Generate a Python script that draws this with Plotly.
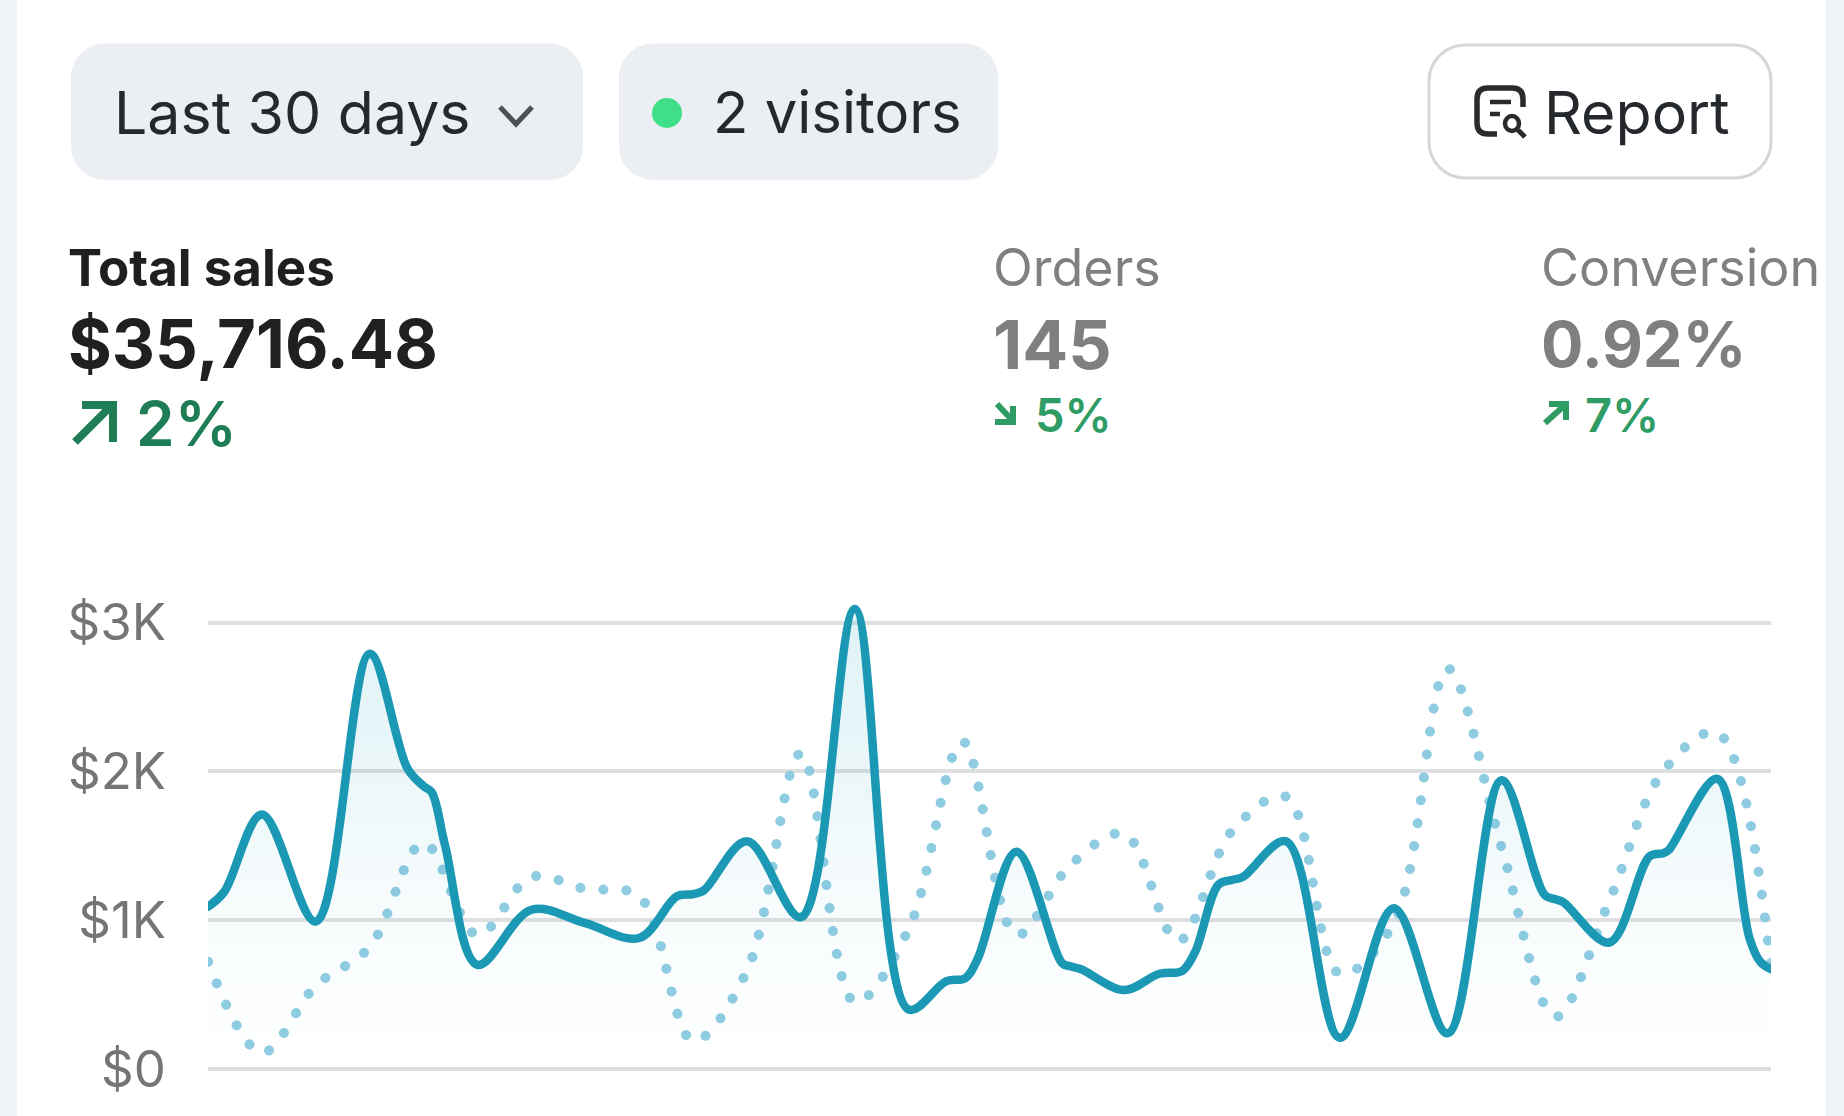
import plotly.graph_objects as go

W, H = 1844, 1116

tick_values = [0, 1000, 2000, 3000]
tick_labels = ["$0", "$1K", "$2K", "$3K"]

# Current period: day values, plus extra readings off the picture where the curve has shoulders
current_days = [0, 0.3, 1, 2, 3, 3.7, 4, 4.15, 4.4, 5, 6, 7, 8, 8.7, 9, 9.2, 10, 11, 12, 13,
                13.7, 14.05, 14.28, 15, 15.85, 16, 16.2, 17, 17.65, 18, 18.1, 18.32, 18.75,
                19, 19.2, 20, 21, 22, 23, 24, 24.8, 25, 25.15, 26, 26.75, 27, 27.1, 28,
                28.6, 28.8, 29]
current_sales = [1090, 1190, 1710, 990, 2790, 2020, 1900, 1860, 1500, 700, 1070, 980, 880, 1160, 1175, 1200,
                 1530, 1020, 3090, 400, 590, 610, 740, 1460, 710, 690, 670, 530, 640, 650, 665, 790, 1240,
                 1270, 1290, 1530, 210, 1080, 240, 1940, 1170, 1140, 1120, 850, 1430, 1450, 1470, 1950,
                 880, 720, 670]
previous_days = list(range(30))
previous_sales = [720, 110, 560, 820, 1520, 900, 1290, 1210, 1160, 190,
                  660, 2120, 450, 940, 2200, 900, 1370, 1580, 860, 1600,
                  1830, 640, 980, 2690, 1490, 350, 1130, 2000, 2260, 680]

PLOT_L, PLOT_R = 208, 1771
Y0, Y3K = 1069, 622.5
px_per = (Y0 - Y3K) / 3000
DOM_T, DOM_B = 560, 1116


def fx(x):
    return x / W


def fy(y):
    return 1 - y / H


def rrect(x0, y0, x1, y1, r):
    k = 0.45 * r
    return (f"M{fx(x0 + r)},{fy(y0)} L{fx(x1 - r)},{fy(y0)} "
            f"C{fx(x1 - k)},{fy(y0)} {fx(x1)},{fy(y0 + k)} {fx(x1)},{fy(y0 + r)} "
            f"L{fx(x1)},{fy(y1 - r)} "
            f"C{fx(x1)},{fy(y1 - k)} {fx(x1 - k)},{fy(y1)} {fx(x1 - r)},{fy(y1)} "
            f"L{fx(x0 + r)},{fy(y1)} "
            f"C{fx(x0 + k)},{fy(y1)} {fx(x0)},{fy(y1 - k)} {fx(x0)},{fy(y1 - r)} "
            f"L{fx(x0)},{fy(y0 + r)} "
            f"C{fx(x0)},{fy(y0 + k)} {fx(x0 + k)},{fy(y0)} {fx(x0 + r)},{fy(y0)} Z")


def poly(points):
    return "M" + " L".join(f"{fx(a)},{fy(b)}" for a, b in points)


def paper_shape(path, fill=None, line=None, width=0):
    return dict(type="path", xref="paper", yref="paper", path=path,
                fillcolor=fill or "rgba(0,0,0,0)",
                line=dict(color=line or "rgba(0,0,0,0)", width=width), layer="below")


shapes = [
    paper_shape(rrect(17, -30, 1826, 1150, 34), fill="#ffffff"),
    paper_shape(rrect(71, 43.5, 583, 180, 34), fill="#ebeef2"),
    paper_shape(rrect(619, 43.5, 998, 180, 34), fill="#ebeef2"),
    paper_shape(rrect(1429, 45, 1771, 178, 36), fill="#ffffff", line="#d4d6d8", width=3),
    paper_shape(poly([(500, 107), (516, 124), (532, 107)]), line="#4c4f55", width=5),
    dict(type="circle", xref="paper", yref="paper", x0=fx(652), x1=fx(682), y0=fy(98), y1=fy(128),
         fillcolor="#3fdf88", line=dict(width=0), layer="below"),
    # report icon
    paper_shape(f"M{fx(1523)},{fy(107)} L{fx(1523)},{fy(99)} Q{fx(1523)},{fy(88)} {fx(1512)},{fy(88)} "
                f"L{fx(1488)},{fy(88)} Q{fx(1477)},{fy(88)} {fx(1477)},{fy(99)} "
                f"L{fx(1477)},{fy(123)} Q{fx(1477)},{fy(134)} {fx(1488)},{fy(134)} L{fx(1497)},{fy(134)}",
                line="#2b2b2b", width=5.5),
    paper_shape(poly([(1490, 102), (1511, 102)]), line="#2b2b2b", width=4.5),
    paper_shape(poly([(1490, 114), (1500, 114)]), line="#2b2b2b", width=4.5),
    dict(type="circle", xref="paper", yref="paper", x0=fx(1505), x1=fx(1519), y0=fy(116), y1=fy(131),
         line=dict(color="#2b2b2b", width=4.5), fillcolor="rgba(0,0,0,0)", layer="below"),
    paper_shape(poly([(1518, 130), (1525, 137)]), line="#2b2b2b", width=5),
    # delta arrows
    paper_shape(poly([(75, 442), (112, 405)]), line="#1e7d55", width=8),
    paper_shape(poly([(82, 405), (113, 405), (113, 442)]), line="#1e7d55", width=8),
    paper_shape(poly([(997, 404), (1013, 421)]), line="#2f9b65", width=6),
    paper_shape(poly([(1013, 406), (1013, 422), (995, 422)]), line="#2f9b65", width=6),
    paper_shape(poly([(1545, 423), (1565, 405)]), line="#2f9b65", width=6),
    paper_shape(poly([(1549, 404), (1566, 404), (1566, 420)]), line="#2f9b65", width=6),
]

FONT = "Inter"


def text(x, cy, s, size, color, weight=400):
    return dict(x=fx(x), y=fy(cy), xref="paper", yref="paper", text=s, showarrow=False,
                xanchor="left", yanchor="middle", borderpad=0,
                font=dict(family=FONT, size=size, color=color, weight=weight))


annotations = [
    text(113, 112, "Last 30 days", 59, "#25282c"),
    text(712, 112, "2 visitors", 58, "#25282c"),
    text(1543, 112, "Report", 59, "#25282c"),
    text(67, 268, "Total sales", 51, "#1f1f1f", 700),
    text(67, 343, "$35,716.48", 67, "#202020", 700),
    text(135, 423, "2%", 62, "#1e7d55", 600),
    text(992, 268, "Orders", 52, "#808080", 400),
    text(992, 344, "145", 68, "#7f7f7f", 700),
    text(1034, 414, "5%", 47, "#2f9b65", 600),
    text(1540, 268, "Conversion", 52, "#808080", 400),
    text(1540, 344, "0.92%", 63, "#7f7f7f", 700),
    text(1584, 414, "7%", 47, "#2f9b65", 600),
]

fig = go.Figure()
fig.add_trace(go.Scatter(
    x=previous_days, y=previous_sales, mode="lines", name="Previous period", hoverinfo="skip",
    line=dict(color="#8fcce2", width=10, shape="spline", smoothing=1.0, dash="0.1px,23px"),
))
fig.add_trace(go.Scatter(
    x=current_days, y=current_sales, mode="lines", name="Current period", hoverinfo="skip",
    fill="tozeroy",
    fillgradient=dict(type="vertical",
                      colorscale=[[0, "rgba(30,160,190,0.0)"], [0.33, "rgba(30,160,190,0.03)"],
                                  [0.65, "rgba(30,160,190,0.09)"], [1, "rgba(30,160,190,0.14)"]]),
    line=dict(color="#1a98b4", width=8.5, shape="spline", smoothing=1.0),
))

fig.update_layout(
    width=W, height=H, margin=dict(l=0, r=0, t=0, b=0),
    paper_bgcolor="#eff2f6", plot_bgcolor="rgba(0,0,0,0)",
    showlegend=False, shapes=shapes, annotations=annotations,
    xaxis=dict(domain=[PLOT_L / W, PLOT_R / W], range=[0, 29], visible=False, fixedrange=True),
    yaxis=dict(domain=[1 - DOM_B / H, 1 - DOM_T / H],
               range=[-(DOM_B - Y0) / px_per, (Y0 - DOM_T) / px_per],
               tickvals=tick_values, ticktext=tick_labels, ticks="",
               ticklabelstandoff=41, showline=False, zeroline=False,
               showgrid=True, gridcolor="#dedfe0", gridwidth=3.5,
               tickfont=dict(family=FONT, size=51, color="#757575"), fixedrange=True),
)

post = """
document.body.style.margin='0';
document.querySelectorAll('.scatterlayer .trace path.js-line').forEach(function(p){
  p.style.strokeLinecap='round'; p.style.strokeLinejoin='round';
});
"""
fig.write_html("out.html", post_script=post, config=dict(displayModeBar=False))
